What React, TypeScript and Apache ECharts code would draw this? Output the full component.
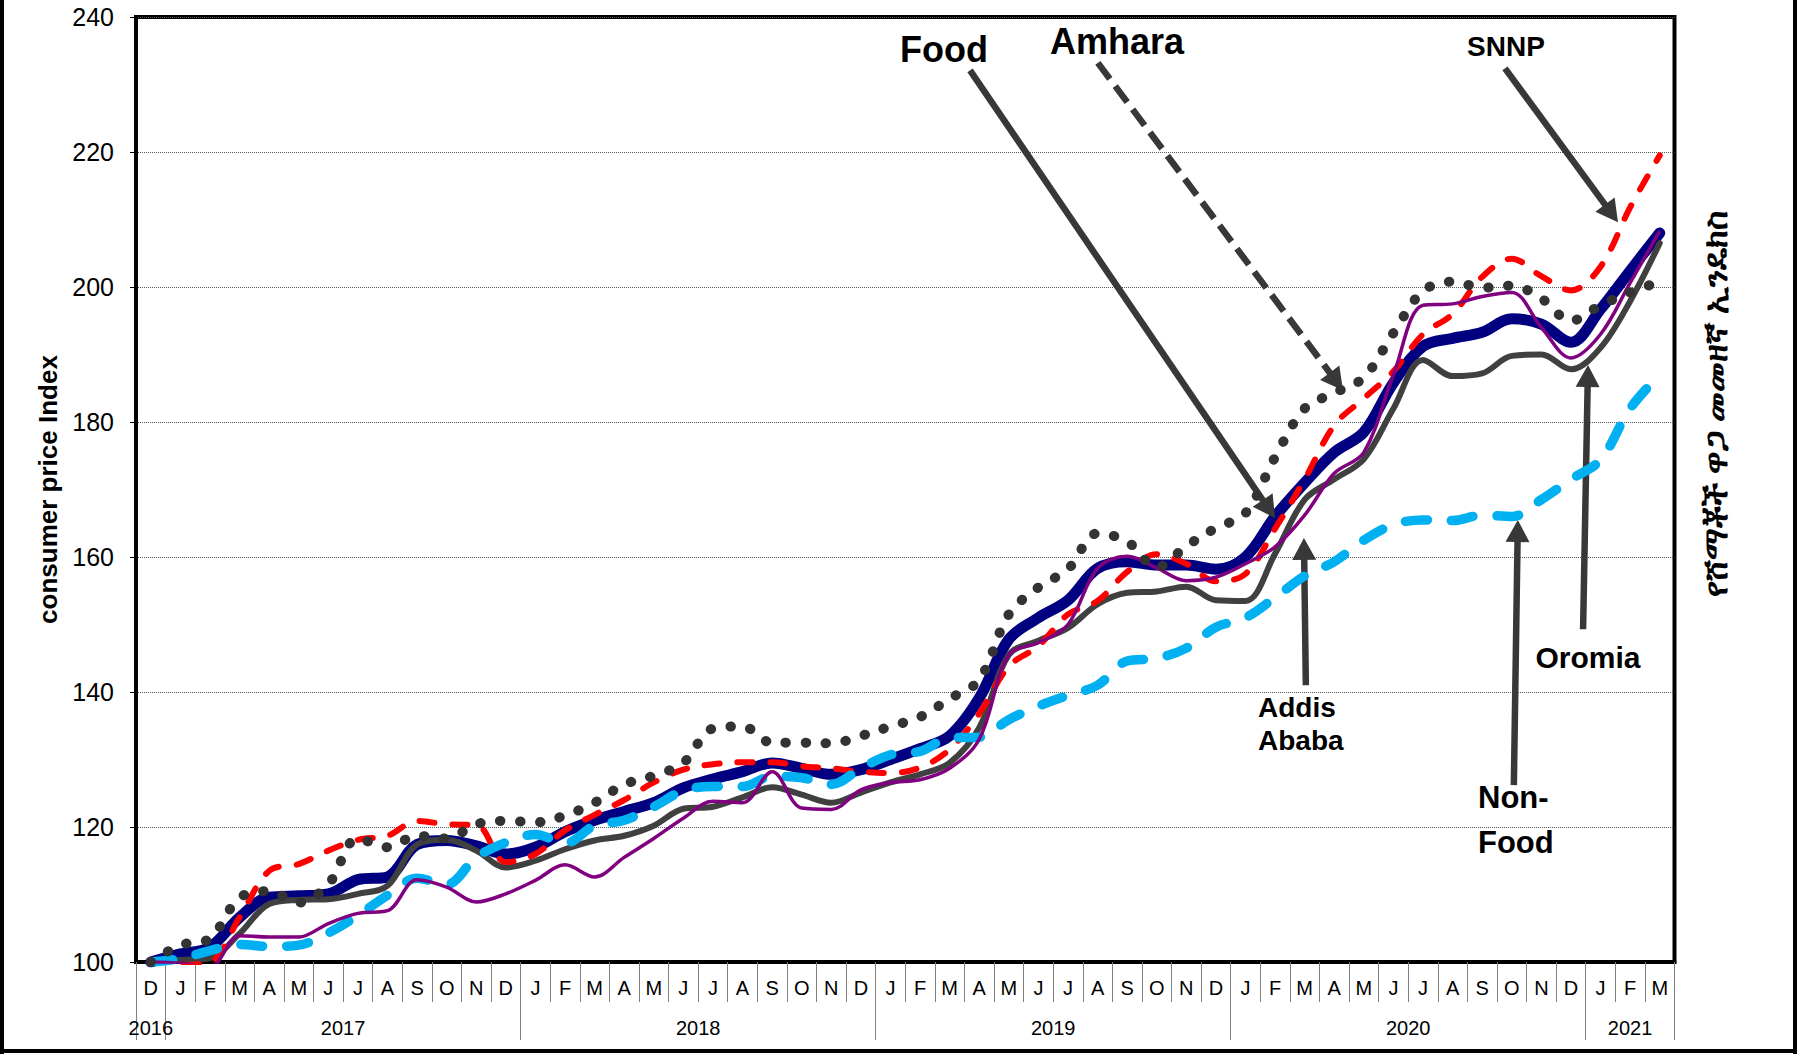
import React, { useEffect, useRef } from "react";
import * as echarts from "echarts";

// ---------- data ----------
const monthLabels = [
  "D",
  "J", "F", "M", "A", "M", "J", "J", "A", "S", "O", "N", "D",
  "J", "F", "M", "A", "M", "J", "J", "A", "S", "O", "N", "D",
  "J", "F", "M", "A", "M", "J", "J", "A", "S", "O", "N", "D",
  "J", "F", "M", "A", "M", "J", "J", "A", "S", "O", "N", "D",
  "J", "F", "M",
];
const yearLabels = ["2016", "2017", "2018", "2019", "2020", "2021"];
const monthsPerYear = [1, 12, 12, 12, 12, 3];

const food = [100, 101.2, 102.2, 106.6, 109.6, 109.8, 110.1, 112.2, 112.6, 117.4, 118, 117.2, 116, 117, 119.3, 121, 122.3, 123.6, 125.8, 127.1, 128.2, 129.5, 128.7, 127.8, 128.5, 130, 131.6, 133.5, 139.1, 147.8, 151, 153.6, 158.3, 159.3, 158.8, 158.8, 158.2, 160, 166, 171, 175.5, 178.5, 185.8, 191.2, 192.4, 193.3, 195.3, 194.5, 191.8, 196.7, 202.4, 208];
const nonFood = [100, 100.5, 101.7, 102.6, 102.3, 102.5, 104.3, 106.9, 109.9, 112.4, 111.5, 115.5, 117.7, 118.9, 117.6, 120.2, 121, 123, 125.4, 126, 126, 127.5, 127.3, 126.3, 128.7, 130.7, 131.2, 133.2, 133.3, 135.9, 137.9, 139.5, 141, 144.6, 145, 146.5, 149.6, 151, 154, 157.2, 159.3, 162.5, 164.8, 165.5, 165.4, 166.2, 166, 168.5, 171.5, 174.4, 182, 187];
const amhara = [100, 102.5, 103.5, 109.5, 110.5, 108.8, 111.5, 118.3, 117, 118.7, 118.3, 120.4, 120.9, 120.7, 121.7, 123.6, 126.3, 127.6, 129.5, 134.6, 134.9, 132.5, 132.5, 132.4, 133.5, 134.9, 136.3, 139, 141.8, 151.5, 155.5, 158.2, 163.5, 162.3, 158.5, 161.6, 164.3, 166.5, 174.8, 182, 184.3, 186.6, 193.2, 199.4, 200.8, 199.9, 200.2, 198.3, 195, 197.3, 199.2, 200.8];
const snnp = [100, 99.6, 100, 106.6, 113.5, 114.5, 116.5, 118.1, 118.7, 120.9, 120.4, 120.3, 114.8, 116, 119.5, 121.8, 124, 126.6, 128.5, 129.3, 129.6, 129.6, 129, 128.7, 128.2, 128, 128.8, 131.5, 136.8, 143.8, 146.8, 151.5, 153.5, 157.8, 160.4, 159, 156.4, 157.5, 164.2, 171.5, 179.5, 183.5, 187.5, 193, 196, 201.5, 204.2, 201.6, 199.5, 203, 211.8, 219.5];
const oromia = [100, 100.3, 100.6, 104.2, 108.6, 109.2, 109.3, 110.1, 111.3, 117.4, 118.1, 116.5, 114, 115, 116.7, 118, 118.7, 120.2, 122.7, 123, 124.4, 125.9, 124.8, 123.6, 125.1, 126.6, 127.8, 129.5, 134.7, 145.5, 147.6, 149.5, 153, 154.7, 154.9, 155.6, 153.6, 153.5, 160.5, 168.5, 171.5, 174.5, 182, 189.2, 186.8, 187.2, 189.8, 190, 187.8, 191, 197.9, 206.5];
const addisAbaba = [100, 99.8, 99.3, 103.9, 103.7, 103.7, 105.7, 107.2, 107.6, 112.2, 111.1, 108.9, 110.1, 112.1, 114.4, 112.6, 115.5, 118.3, 121.3, 123.8, 123.6, 128.2, 122.8, 122.6, 125.5, 126.6, 127, 128.7, 133, 145.5, 147.3, 150, 158.3, 160.1, 158.4, 156.5, 157, 159, 161.5, 166.2, 172.4, 175.5, 187, 197.3, 197.5, 198.6, 199.2, 194, 189.5, 193, 200.6, 208.3];

// annotation arrows in data space: [xIndex, value] -> [xIndex, value]
const arrowFrom = [[27.69, 232.1], [32.01, 233.2], [45.77, 232.4], [39.04, 141.0], [46.07, 126.2], [48.41, 149.3]];
const arrowTo = [[37.79, 167.1], [40.07, 186.0], [49.37, 210.9], [38.98, 161.2], [46.2, 163.85], [48.57, 186.8]];
const arrowDashed = [false, true, false, false, false, false];

const amharicTitle = "የሸማቾች ዋጋ መመዘኛ ኢንዴክስ";

const FONT = '"Liberation Sans", Arial, Helvetica, sans-serif';
const W = 1797;
const H = 1054;

export default function App() {
  const ref = useRef<HTMLDivElement>(null);

  useEffect(() => {
    document.body.style.margin = "0";
    const chart = echarts.init(ref.current as HTMLDivElement, null, { renderer: "svg" });

    const yearBounds: number[] = [-0.5];
    const yearCenters: number[] = [];
    let acc = 0;
    monthsPerYear.forEach((c) => {
      yearCenters.push(acc + (c - 1) / 2);
      acc += c;
      yearBounds.push(acc - 0.5);
    });

    const line = (name: string, data: number[], lineStyle: any, z: number) => ({
      type: "line",
      name,
      data,
      xAxisIndex: 0,
      yAxisIndex: 0,
      smooth: 0.35,
      symbol: "none",
      silent: true,
      clip: true,
      z,
      lineStyle,
    });

    const labelLayout = [
      { text: "Food", x: 944, y: 49, size: 36, align: "center", lh: 40 },
      { text: "Amhara", x: 1117, y: 41, size: 36, align: "center", lh: 40 },
      { text: "SNNP", x: 1506, y: 46, size: 28, align: "center", lh: 32 },
      { text: "Addis\nAbaba", x: 1258, y: 724, size: 28, align: "left", lh: 33 },
      { text: "Non-\nFood", x: 1478, y: 820, size: 31, align: "left", lh: 45 },
      { text: "Oromia", x: 1588, y: 657, size: 30, align: "center", lh: 34 },
    ];

    const option: any = {
      animation: false,
      textStyle: { fontFamily: FONT },
      grid: {
        left: 136,
        right: 122.5,
        top: 17,
        bottom: 92,
        show: true,
        borderColor: "#000",
        borderWidth: 4,
        containLabel: false,
        outerBoundsMode: "none",
      },
      xAxis: [
        {
          type: "category",
          data: monthLabels,
          boundaryGap: true,
          position: "bottom",
          axisLine: { show: true, onZero: false, lineStyle: { color: "#000", width: 4 } },
          axisTick: { show: true, interval: 0, length: 40, lineStyle: { color: "#808080", width: 1 } },
          axisLabel: { interval: 0, margin: 16, fontSize: 20, color: "#000", fontFamily: FONT },
          splitLine: { show: false },
        },
        {
          type: "value",
          min: -0.5,
          max: 51.5,
          position: "bottom",
          axisLine: { show: false, onZero: false },
          axisTick: { show: true, customValues: yearBounds, length: 78, lineStyle: { color: "#808080", width: 1 } },
          axisLabel: {
            show: true,
            customValues: yearCenters,
            margin: 56,
            fontSize: 20,
            color: "#000",
            fontFamily: FONT,
            formatter: (v: number) => {
              const k = yearCenters.findIndex((c) => Math.abs(c - v) < 1e-6);
              return k >= 0 ? yearLabels[k] : "";
            },
          },
          splitLine: { show: false },
        },
      ],
      yAxis: [
        {
          type: "value",
          min: 100,
          max: 240,
          interval: 20,
          position: "left",
          name: "consumer price Index",
          nameLocation: "middle",
          nameRotate: 90,
          nameGap: 70,
          nameTextStyle: { fontSize: 26, fontWeight: "bold", color: "#000", fontFamily: FONT },
          axisLine: { show: true, onZero: false, lineStyle: { color: "#000", width: 4 } },
          axisTick: { show: true, length: 6, lineStyle: { color: "#000", width: 1 } },
          axisLabel: { margin: 22, fontSize: 25, color: "#000", fontFamily: FONT },
          splitLine: { show: true, lineStyle: { color: "#555", width: 1, type: "dotted" } },
        },
        {
          type: "value",
          min: 100,
          max: 240,
          interval: 20,
          position: "right",
          axisLine: { show: false, onZero: false },
          axisTick: { show: false },
          axisLabel: { show: false },
          splitLine: { show: false },
        },
      ],
      series: [
        line("Food", food, { color: "#000080", width: 11, cap: "round", join: "round" }, 2),
        line("Oromia", oromia, { color: "#404040", width: 6, cap: "round" }, 3),
        line("SNNP", snnp, { color: "#FF0000", width: 6, type: [15, 18], cap: "round" }, 4),
        line("Non-Food", nonFood, { color: "#00B0F0", width: 9.5, type: [22, 24], cap: "round" }, 5),
        line("Addis Ababa", addisAbaba, { color: "#800080", width: 3.5 }, 6),
        line("Amhara", amhara, { color: "#333333", width: 10, type: [0.5, 19.5], cap: "round" }, 7),
        {
          type: "line",
          name: "annotations",
          xAxisIndex: 1,
          yAxisIndex: 0,
          data: [],
          symbol: "none",
          silent: true,
          z: 8,
          markLine: {
            silent: true,
            animation: false,
            symbol: ["none", "triangle"],
            symbolSize: [24, 22],
            label: { show: false },
            emphasis: { disabled: true },
            lineStyle: { color: "#383838", width: 6.5, type: "solid" },
            data: arrowFrom.map((f, i) => [
              {
                coord: f,
                lineStyle: arrowDashed[i]
                  ? { color: "#383838", width: 6.5, type: [20, 9] }
                  : { color: "#383838", width: 6.5, type: "solid" },
              },
              { coord: arrowTo[i] },
            ]),
          },
        },
      ],
      graphic: [
        ...labelLayout.map((l) => ({
          type: "text",
          x: l.x,
          y: l.y,
          z: 100,
          silent: true,
          style: {
            text: l.text,
            fill: "#000",
            fontSize: l.size,
            fontWeight: "bold",
            fontFamily: FONT,
            lineHeight: l.lh,
            align: l.align,
            verticalAlign: "middle",
          },
        })),
        {
          type: "text",
          x: 1715,
          y: 404,
          rotation: Math.PI / 2,
          z: 100,
          silent: true,
          style: {
            text: amharicTitle,
            fill: "#000",
            fontSize: 33,
            fontWeight: "bold",
            align: "center",
            verticalAlign: "middle",
          },
        },
        { type: "line", silent: true, shape: { x1: 2, y1: 0, x2: 2, y2: H }, style: { stroke: "#000", lineWidth: 4 } },
        { type: "line", silent: true, shape: { x1: 0, y1: H - 3, x2: W, y2: H - 3 }, style: { stroke: "#000", lineWidth: 4 } },
        { type: "line", silent: true, shape: { x1: W - 2, y1: 0, x2: W - 2, y2: H }, style: { stroke: "#000", lineWidth: 4 } },
      ],
    };

    chart.setOption(option);
    return () => chart.dispose();
  }, []);

  return <div ref={ref} style={{ width: W, height: H }} />;
}
